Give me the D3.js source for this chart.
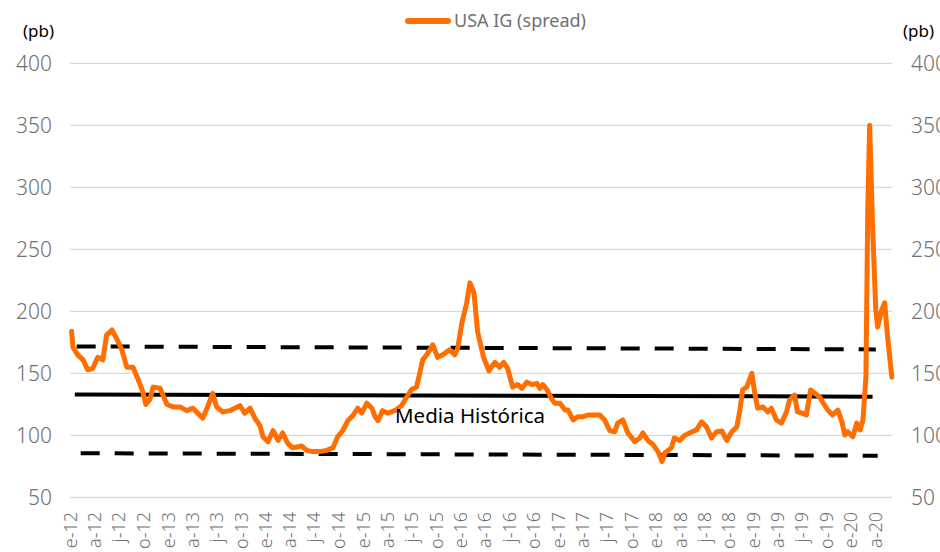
<!DOCTYPE html>
<html>
<head>
<meta charset="utf-8">
<script src="https://cdn.jsdelivr.net/npm/d3@7"></script>
<style>
  html, body { margin: 0; padding: 0; background: #ffffff; }
  svg { display: block; }
  text { font-family: "Noto Sans", "Open Sans", sans-serif; }
</style>
</head>
<body>
<svg id="chart" width="940" height="552"></svg>
<script>
// ---- Data ----
const seriesName = "USA IG (spread)";
const dates = [
  "2012-01-07","2012-01-12","2012-01-30","2012-02-19","2012-03-07","2012-03-26","2012-04-14","2012-05-03",
  "2012-05-17","2012-06-06","2012-06-24","2012-07-13","2012-08-01","2012-08-24","2012-09-12","2012-09-27",
  "2012-10-11","2012-10-26","2012-11-07","2012-12-03","2012-12-29","2013-01-21","2013-02-16","2013-03-13",
  "2013-04-05","2013-04-23","2013-05-12","2013-05-30","2013-06-18","2013-07-03","2013-07-25","2013-08-21",
  "2013-09-09","2013-09-28","2013-10-16","2013-11-05","2013-11-23","2013-12-12","2013-12-23","2014-01-11",
  "2014-01-30","2014-02-18","2014-03-07","2014-03-25","2014-04-13","2014-05-17","2014-06-05","2014-06-27",
  "2014-07-23","2014-08-19","2014-09-11","2014-09-29","2014-10-18","2014-11-06","2014-11-25","2014-12-13",
  "2014-12-28","2015-01-16","2015-02-04","2015-02-16","2015-02-27","2015-03-16","2015-04-04","2015-04-30",
  "2015-05-26","2015-06-14","2015-07-02","2015-07-21","2015-08-02","2015-08-13","2015-08-28","2015-09-20",
  "2015-10-08","2015-10-27","2015-11-22","2015-12-11","2015-12-22","2016-01-07","2016-01-25","2016-02-06",
  "2016-02-21","2016-03-06","2016-03-28","2016-04-17","2016-05-09","2016-05-27","2016-06-11","2016-06-26",
  "2016-07-15","2016-08-03","2016-08-18","2016-09-06","2016-09-25","2016-10-13","2016-10-25","2016-11-05",
  "2016-11-20","2016-12-09","2016-12-20","2017-01-08","2017-01-27","2017-02-07","2017-02-26","2017-03-15",
  "2017-04-03","2017-04-22","2017-05-17","2017-06-06","2017-06-24","2017-07-13","2017-08-01","2017-08-12",
  "2017-08-31","2017-09-19","2017-10-15","2017-11-03","2017-11-14","2017-12-03","2017-12-21","2018-01-10",
  "2018-01-25","2018-02-05","2018-03-01","2018-03-12","2018-04-01","2018-04-19","2018-05-08","2018-06-03",
  "2018-06-22","2018-07-10","2018-07-29","2018-08-17","2018-09-06","2018-09-24","2018-10-13","2018-11-01",
  "2018-11-12","2018-11-23","2018-12-08","2018-12-27","2019-01-07","2019-01-18","2019-02-07","2019-02-25",
  "2019-03-10","2019-03-29","2019-04-17","2019-05-06","2019-05-17","2019-06-05","2019-06-16","2019-07-04",
  "2019-07-19","2019-08-04","2019-08-19","2019-09-07","2019-09-18","2019-10-07","2019-10-25","2019-11-14",
  "2019-11-29","2019-12-10","2019-12-21","2020-01-09","2020-01-24","2020-02-05","2020-02-16","2020-02-27",
  "2020-03-05","2020-03-12","2020-03-23","2020-04-04","2020-04-11","2020-04-26","2020-05-07","2020-05-18",
  "2020-06-03"
];
const spreads = [
  184,171,165,161,153,154,163,161,
  181,185,178,169,155,155,145,137,
  125,129,139,138,125,123,123,120,
  122,118,114,123,134,123,119,120,
  122,124,118,122,114,108,99,95,
  104,96,102,94,90,91.5,88,87,
  87,88,90,99,104,112,116,122,
  118,126,122,115,112,120,118,120,
  124,131,137,139,150,161,165,173,
  163,165,169,165,170,191,207,223,
  215,183,163,152,159,155,159,154,
  139,141,138,143,141,142,138,141,
  137,129,126,126,120.5,120.5,112.5,115,
  115,116.5,116.5,116.5,112.5,104,103,110,
  112.5,102,95,98,102,96,93,87,
  79,86,90,98,96,100,102,104.5,
  111,107,98,103,103.6,96,103,107,
  120,137,139,150,134,122,123,119,
  122,112.5,110,119,128.6,132.6,119,118,
  116.5,136.7,134,131,127,120.5,116.5,120.5,
  111,100.4,103,99,110,104.4,112.5,147,
  282,350,268,201,187.5,201,207,180,
  147
];
// Reference lines: [start value, end value] with their start / end dates
const meanDates = ["2012-01-19", "2020-03-23"];
const meanValues = [133, 131.3];
const upperDates = ["2012-01-26", "2020-04-04"];
const upperValues = [171.8, 169.4];
const lowerDates = ["2012-02-10", "2020-04-11"];
const lowerValues = [85.7, 83.7];
const meanLabel = "Media Histórica";
const yTicks = [50, 100, 150, 200, 250, 300, 350, 400];
const xTickLabels = [
  "e-12","a-12","j-12","o-12","e-13","a-13","j-13","o-13","e-14","a-14","j-14","o-14",
  "e-15","a-15","j-15","o-15","e-16","a-16","j-16","o-16","e-17","a-17","j-17","o-17",
  "e-18","a-18","j-18","o-18","e-19","a-19","j-19","o-19","e-20","a-20"
];
const unitLabel = "(pb)";

// ---- Chart ----
const parse = d3.timeParse("%Y-%m-%d");
const svg = d3.select("#chart");
const gridLeft = 70, gridRight = 892;
const labelGray = "#707070";

const x = d3.scaleTime()
  .domain([parse("2012-01-01"), parse("2020-04-01")])
  .range([70, 875]);
const y = d3.scaleLinear().domain([50, 400]).range([497.5, 63.3]);

// gridlines
svg.append("g").selectAll("line").data(yTicks).join("line")
  .attr("x1", gridLeft).attr("x2", gridRight)
  .attr("y1", d => y(d)).attr("y2", d => y(d))
  .attr("stroke", "#d9d9d9").attr("stroke-width", 1.3);

// left axis labels
const yLeft = d3.axisLeft(y).tickValues(yTicks).tickSize(0).tickPadding(0);
const gL = svg.append("g").attr("transform", "translate(52,0)").call(yLeft);
gL.select(".domain").remove();
gL.selectAll("text").attr("font-size", 21).attr("fill", labelGray)
  .attr("font-family", "'Noto Sans', sans-serif").attr("font-weight", 300);

// right axis labels
const yRight = d3.axisRight(y).tickValues(yTicks).tickSize(0).tickPadding(0);
const gR = svg.append("g").attr("transform", "translate(911,0)").call(yRight);
gR.select(".domain").remove();
gR.selectAll("text").attr("font-size", 21).attr("fill", labelGray)
  .attr("font-family", "'Noto Sans', sans-serif").attr("font-weight", 300);

// x axis labels
const tickDates = d3.timeMonth.every(3).range(parse("2012-01-01"), parse("2020-04-02"));
const xAxis = d3.axisBottom(x).tickValues(tickDates)
  .tickFormat((d, i) => xTickLabels[i]).tickSize(0).tickPadding(0);
const gX = svg.append("g").attr("transform", "translate(0,512)").call(xAxis);
gX.select(".domain").remove();
gX.selectAll("text")
  .attr("transform", "rotate(-90)")
  .attr("text-anchor", "end")
  .attr("dy", "0.35em")
  .attr("x", 0).attr("y", 0)
  .attr("font-size", 18).attr("fill", labelGray)
  .attr("font-family", "'Noto Sans', sans-serif").attr("font-weight", 300);

// reference lines
function refLine(ds, vs, dash) {
  svg.append("line")
    .attr("x1", x(parse(ds[0]))).attr("x2", x(parse(ds[1])))
    .attr("y1", y(vs[0])).attr("y2", y(vs[1]))
    .attr("stroke", "#000").attr("stroke-width", 4)
    .attr("stroke-dasharray", dash);
}
refLine(upperDates, upperValues, "19,15");
refLine(lowerDates, lowerValues, "19,15");
refLine(meanDates, meanValues, null);

// series line
const data = dates.map((d, i) => ({ date: parse(d), value: spreads[i] }));
const line = d3.line().x(d => x(d.date)).y(d => y(d.value)).curve(d3.curveLinear);
svg.append("path").datum(data)
  .attr("d", line)
  .attr("fill", "none")
  .attr("stroke", "#ff6e00")
  .attr("stroke-width", 5)
  .attr("stroke-linejoin", "round")
  .attr("stroke-linecap", "round");

// mean label
svg.append("text")
  .attr("x", 395).attr("y", 423)
  .attr("font-size", 20.5).attr("fill", "#000")
  .text(meanLabel);

// unit labels
svg.append("text").attr("x", 23).attr("y", 37).attr("font-size", 17).attr("fill", "#000").text(unitLabel);
svg.append("text").attr("x", 903).attr("y", 37).attr("font-size", 17).attr("fill", "#000").text(unitLabel);

// legend
svg.append("line").attr("x1", 408).attr("x2", 448).attr("y1", 21).attr("y2", 21)
  .attr("stroke", "#ff6e00").attr("stroke-width", 6).attr("stroke-linecap", "round");
svg.append("text").attr("x", 454).attr("y", 27).attr("font-size", 18).attr("fill", labelGray)
  .text(seriesName);
</script>
</body>
</html>
